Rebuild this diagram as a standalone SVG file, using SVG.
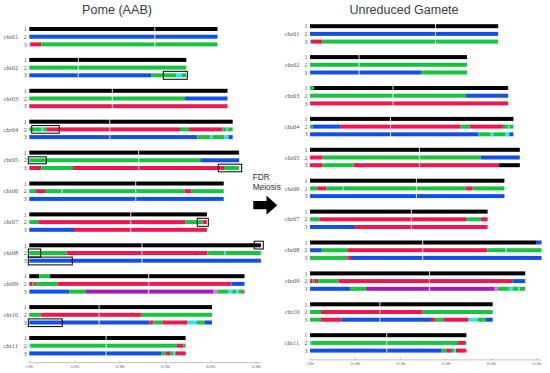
<svg xmlns="http://www.w3.org/2000/svg" width="550" height="373" viewBox="0 0 550 373">
<defs>
<style>
.k{fill:#000}.b{fill:#1150e6}.g{fill:#16c43e}.r{fill:#f0164f}.c{fill:#2de6f0}.p{fill:#a11fb5}.m{fill:#f06ade}
.cen{fill:#fff;opacity:.85}
.box{fill:none;stroke:#000;stroke-width:1}
.lab{font-family:"Liberation Serif",serif;font-size:6.3px;fill:#555}
.num{font-family:"Liberation Serif",serif;font-size:6px;fill:#555;text-anchor:end}
.title{font-family:"Liberation Sans",Arial,sans-serif;fill:#404040;text-anchor:middle}
.ax{stroke:#999;stroke-width:.6;fill:none}
.axl{font-family:"Liberation Sans",Arial,sans-serif;font-size:3.4px;fill:#777;text-anchor:middle}
</style>
</defs>
<rect width="550" height="373" fill="#fff"/>
<text class="title" x="117" y="14" font-size="12.6">Pome (AAB)</text>
<text class="title" x="404" y="13.5" font-size="12.5">Unreduced Gamete</text>

<g id="fdr">
<text x="252.7" y="180" font-family="Liberation Sans,Arial,sans-serif" font-size="8.3" fill="#333">FDR</text>
<text x="252.7" y="189.5" font-family="Liberation Sans,Arial,sans-serif" font-size="8.3" fill="#333">Meiosis</text>
<polygon points="253.3,201 266.5,201 266.5,195.8 277.3,205.3 266.5,214.8 266.5,209.3 253.3,209.3" fill="#000"/>
</g>

<!-- LEFT PANEL -->
<g id="left" transform="translate(29.3,0)">
<g id="L-chr01" transform="translate(0,29)">
<text class="lab" x="-25.6" y="9.9">chr01</text><text class="num" x="-2.5" y="2.2">1</text><text class="num" x="-2.5" y="9.9">2</text><text class="num" x="-2.5" y="17.6">3</text>
<rect class="k" x="0" y="-2" width="188.2" height="4"/>
<rect class="b" x="0" y="5.7" width="188.2" height="4"/>
<rect class="c" x="0" y="13.4" width="1" height="4"/><rect class="r" x="1" y="13.4" width="11" height="4"/><rect class="g" x="12" y="13.4" width="176.2" height="4"/>
<rect class="cen" x="125" y="-2.5" width="1" height="20.4"/>
</g>
<g id="L-chr02" transform="translate(0,59.9)">
<text class="lab" x="-25.6" y="9.9">chr02</text><text class="num" x="-2.5" y="2.2">1</text><text class="num" x="-2.5" y="9.9">2</text><text class="num" x="-2.5" y="17.6">3</text>
<rect class="k" x="0" y="-2" width="157" height="4"/>
<rect class="g" x="0" y="5.7" width="157" height="4"/>
<rect class="b" x="0" y="13.4" width="122.3" height="4"/><rect class="g" x="122.3" y="13.4" width="24.4" height="4"/><rect class="c" x="146.7" y="13.4" width="6" height="4"/><rect class="g" x="152.7" y="13.4" width="4.3" height="4"/>
<rect class="cen" x="48.5" y="-2.5" width="1" height="20.4"/>
<rect class="box" x="134" y="11.4" width="24" height="8"/>
</g>
<g id="L-chr03" transform="translate(0,90.8)">
<text class="lab" x="-25.6" y="9.9">chr03</text><text class="num" x="-2.5" y="2.2">1</text><text class="num" x="-2.5" y="9.9">2</text><text class="num" x="-2.5" y="17.6">3</text>
<rect class="k" x="0" y="-2" width="198.2" height="4"/>
<rect class="g" x="0" y="5.7" width="155.7" height="4"/><rect class="b" x="155.7" y="5.7" width="42.5" height="4"/>
<rect class="r" x="0" y="13.4" width="198.2" height="4"/>
<rect class="cen" x="82.5" y="-2.5" width="1" height="20.4"/>
</g>
<g id="L-chr04" transform="translate(0,121.7)">
<text class="lab" x="-25.6" y="9.9">chr04</text><text class="num" x="-2.5" y="2.2">1</text><text class="num" x="-2.5" y="9.9">2</text><text class="num" x="-2.5" y="17.6">3</text>
<rect class="k" x="0" y="-2" width="203.4" height="4"/>
<rect class="g" x="0" y="5.7" width="12" height="4"/><rect class="c" x="12" y="5.7" width="2" height="4"/><rect class="g" x="14" y="5.7" width="3.3" height="4"/><rect class="r" x="17.3" y="5.7" width="133.4" height="4"/><rect class="g" x="150.7" y="5.7" width="9" height="4"/><rect class="r" x="159.7" y="5.7" width="33.3" height="4"/><rect class="g" x="193" y="5.7" width="4.3" height="4"/><rect class="c" x="197.3" y="5.7" width="1.2" height="4"/><rect class="g" x="198.5" y="5.7" width="4.9" height="4"/>
<rect class="b" x="0" y="13.4" width="168" height="4"/><rect class="g" x="168" y="13.4" width="12.7" height="4"/><rect class="c" x="180.7" y="13.4" width="2.3" height="4"/><rect class="g" x="183" y="13.4" width="12" height="4"/><rect class="c" x="195" y="13.4" width="4.3" height="4"/><rect class="b" x="199.3" y="13.4" width="4.1" height="4"/>
<rect class="cen" x="80" y="-2.5" width="1" height="20.4"/>
<rect class="box" x="2.4" y="3.9" width="27.6" height="7.6"/>
</g>
<g id="L-chr05" transform="translate(0,152.6)">
<text class="lab" x="-25.6" y="9.9">chr05</text><text class="num" x="-2.5" y="2.2">1</text><text class="num" x="-2.5" y="9.9">2</text><text class="num" x="-2.5" y="17.6">3</text>
<rect class="k" x="0" y="-2" width="209.8" height="4"/>
<rect class="g" x="0" y="5.7" width="171" height="4"/><rect class="b" x="171" y="5.7" width="38.8" height="4"/>
<rect class="r" x="0" y="13.4" width="12" height="4"/><rect class="g" x="12" y="13.4" width="31.7" height="4"/><rect class="r" x="43.7" y="13.4" width="151" height="4"/><rect class="g" x="194.7" y="13.4" width="15.1" height="4"/>
<rect class="cen" x="108.9" y="-2.5" width="1" height="20.4"/>
<rect class="box" x="-1" y="4.2" width="18" height="7"/>
<rect class="box" x="189" y="11.6" width="23.4" height="7.6"/>
</g>
<g id="L-chr06" transform="translate(0,183.5)">
<text class="lab" x="-25.6" y="9.9">chr06</text><text class="num" x="-2.5" y="2.2">1</text><text class="num" x="-2.5" y="9.9">2</text><text class="num" x="-2.5" y="17.6">3</text>
<rect class="k" x="0" y="-2" width="194.4" height="4"/>
<rect class="g" x="0" y="5.7" width="6.7" height="4"/><rect class="r" x="6.7" y="5.7" width="9" height="4"/><rect class="g" x="15.7" y="5.7" width="16.6" height="4"/><rect class="c" x="32.3" y="5.7" width="1" height="4"/><rect class="g" x="33.3" y="5.7" width="121.7" height="4"/><rect class="r" x="155" y="5.7" width="7.3" height="4"/><rect class="g" x="162.3" y="5.7" width="32.1" height="4"/>
<rect class="b" x="0" y="13.4" width="194.4" height="4"/>
<rect class="cen" x="105.9" y="-2.5" width="1" height="20.4"/>
</g>
<g id="L-chr07" transform="translate(0,214.4)">
<text class="lab" x="-25.6" y="9.9">chr07</text><text class="num" x="-2.5" y="2.2">1</text><text class="num" x="-2.5" y="9.9">2</text><text class="num" x="-2.5" y="17.6">3</text>
<rect class="k" x="0" y="-2" width="177.6" height="4"/>
<rect class="g" x="0" y="5.7" width="9" height="4"/><rect class="r" x="9" y="5.7" width="147.3" height="4"/><rect class="g" x="156.3" y="5.7" width="17" height="4"/><rect class="r" x="173.3" y="5.7" width="4.3" height="4"/>
<rect class="b" x="0" y="13.4" width="44.7" height="4"/><rect class="r" x="44.7" y="13.4" width="132.9" height="4"/>
<rect class="cen" x="100.9" y="-2.5" width="1" height="20.4"/>
<rect class="box" x="168" y="3.9" width="11" height="8"/>
</g>
<g id="L-chr08" transform="translate(0,245.3)">
<text class="lab" x="-25.6" y="9.9">chr08</text><text class="num" x="-2.5" y="2.2">1</text><text class="num" x="-2.5" y="9.9">2</text><text class="num" x="-2.5" y="17.6">3</text>
<rect class="k" x="0" y="-2" width="231.6" height="4"/>
<rect class="g" x="0" y="5.7" width="37.3" height="4"/><rect class="r" x="37.3" y="5.7" width="140.7" height="4"/><rect class="g" x="178" y="5.7" width="17" height="4"/><rect class="c" x="195" y="5.7" width="1.7" height="4"/><rect class="g" x="196.7" y="5.7" width="34.9" height="4"/>
<rect class="b" x="0" y="13.4" width="231.6" height="4"/>
<rect class="cen" x="112.2" y="-2.5" width="1" height="20.4"/>
<rect class="box" x="225" y="-4.1" width="9" height="7.8"/>
<rect class="box" x="-1" y="3.7" width="12.4" height="8.1"/>
<rect class="box" x="-1" y="11.8" width="44" height="7.8"/>
</g>
<g id="L-chr09" transform="translate(0,276.2)">
<text class="lab" x="-25.6" y="9.9">chr09</text><text class="num" x="-2.5" y="2.2">1</text><text class="num" x="-2.5" y="9.9">2</text><text class="num" x="-2.5" y="17.6">3</text>
<rect class="k" x="0" y="-2" width="10" height="4"/><rect class="g" x="10" y="-2" width="10.7" height="4"/><rect class="k" x="20.7" y="-2" width="194.5" height="4"/>
<rect class="r" x="0" y="5.7" width="3" height="4"/><rect class="g" x="3" y="5.7" width="2" height="4"/><rect class="r" x="5" y="5.7" width="2.3" height="4"/><rect class="g" x="7.3" y="5.7" width="21" height="4"/><rect class="r" x="28.3" y="5.7" width="174" height="4"/><rect class="b" x="202.3" y="5.7" width="12.9" height="4"/>
<rect class="b" x="0" y="13.4" width="40" height="4"/><rect class="g" x="40" y="13.4" width="16" height="4"/><rect class="p" x="56" y="13.4" width="128.3" height="4"/><rect class="m" x="184.3" y="13.4" width="3.7" height="4"/><rect class="g" x="188" y="13.4" width="10.7" height="4"/><rect class="c" x="198.7" y="13.4" width="4.3" height="4"/><rect class="g" x="203" y="13.4" width="4.3" height="4"/><rect class="c" x="207.3" y="13.4" width="2" height="4"/><rect class="g" x="209.3" y="13.4" width="4.7" height="4"/><rect class="r" x="214" y="13.4" width="1.2" height="4"/>
<rect class="cen" x="118.9" y="-2.5" width="1" height="20.4"/>
</g>
<g id="L-chr10" transform="translate(0,307.1)">
<text class="lab" x="-25.6" y="9.9">chr10</text><text class="num" x="-2.5" y="2.2">1</text><text class="num" x="-2.5" y="9.9">2</text><text class="num" x="-2.5" y="17.6">3</text>
<rect class="k" x="0" y="-2" width="182.7" height="4"/>
<rect class="g" x="0" y="5.7" width="11.3" height="4"/><rect class="r" x="11.3" y="5.7" width="101" height="4"/><rect class="g" x="112.3" y="5.7" width="70.4" height="4"/>
<rect class="b" x="0" y="13.4" width="120.3" height="4"/><rect class="r" x="120.3" y="13.4" width="4" height="4"/><rect class="g" x="124.3" y="13.4" width="8.7" height="4"/><rect class="r" x="133" y="13.4" width="25.3" height="4"/><rect class="c" x="158.3" y="13.4" width="9.4" height="4"/><rect class="g" x="167.7" y="13.4" width="7.6" height="4"/><rect class="b" x="175.3" y="13.4" width="7.4" height="4"/>
<rect class="cen" x="69.3" y="-2.5" width="1" height="20.4"/>
<rect class="box" x="-1" y="11.8" width="34" height="7.7"/>
</g>
<g id="L-chr11" transform="translate(0,338)">
<text class="lab" x="-25.6" y="9.9">chr11</text><text class="num" x="-2.5" y="2.2">1</text><text class="num" x="-2.5" y="9.9">2</text><text class="num" x="-2.5" y="17.6">3</text>
<rect class="k" x="0" y="-2" width="156.4" height="4"/>
<rect class="c" x="0" y="5.7" width="1.7" height="4"/><rect class="g" x="1.7" y="5.7" width="146" height="4"/><rect class="r" x="147.7" y="5.7" width="6.6" height="4"/><rect class="g" x="154.3" y="5.7" width="2.1" height="4"/>
<rect class="b" x="0" y="13.4" width="131.7" height="4"/><rect class="g" x="131.7" y="13.4" width="4.3" height="4"/><rect class="r" x="136" y="13.4" width="4.7" height="4"/><rect class="g" x="140.7" y="13.4" width="3" height="4"/><rect class="c" x="143.7" y="13.4" width="2.3" height="4"/><rect class="r" x="146" y="13.4" width="10.4" height="4"/>
<rect class="cen" x="76.3" y="-2.5" width="1" height="20.4"/>
</g>
<g id="L-axis">
<path class="ax" d="M0,362.7H231.7M0,362.7V360.9M45.3,362.7V360.9M90.7,362.7V360.9M136,362.7V360.9M181.3,362.7V360.9M226.7,362.7V360.9"/>
<text class="axl" x="0" y="368">0 Mb</text><text class="axl" x="45.3" y="368">10 Mb</text><text class="axl" x="90.7" y="368">20 Mb</text><text class="axl" x="136" y="368">30 Mb</text><text class="axl" x="181.3" y="368">40 Mb</text><text class="axl" x="226.7" y="368">50 Mb</text>
</g>
</g>

<!-- RIGHT PANEL -->
<g id="right" transform="translate(310,-2.8)">
<g id="R-chr01" transform="translate(0,29)">
<text class="lab" x="-25" y="9.9">chr01</text><text class="num" x="-2.5" y="2.2">1</text><text class="num" x="-2.5" y="9.9">2</text><text class="num" x="-2.5" y="17.6">3</text>
<rect class="k" x="0" y="-2" width="188.2" height="4"/>
<rect class="b" x="0" y="5.7" width="188.2" height="4"/>
<rect class="c" x="0" y="13.4" width="1" height="4"/><rect class="r" x="1" y="13.4" width="11.3" height="4"/><rect class="g" x="12.3" y="13.4" width="175.9" height="4"/>
<rect class="cen" x="125" y="-2.5" width="1" height="20.4"/>
</g>
<g id="R-chr02" transform="translate(0,59.9)">
<text class="lab" x="-25" y="9.9">chr02</text><text class="num" x="-2.5" y="2.2">1</text><text class="num" x="-2.5" y="9.9">2</text><text class="num" x="-2.5" y="17.6">3</text>
<rect class="k" x="0" y="-2" width="157" height="4"/>
<rect class="g" x="0" y="5.7" width="157" height="4"/>
<rect class="b" x="0" y="13.4" width="111" height="4"/><rect class="g" x="111" y="13.4" width="46" height="4"/>
<rect class="cen" x="48.5" y="-2.5" width="1" height="20.4"/>
</g>
<g id="R-chr03" transform="translate(0,90.8)">
<text class="lab" x="-25" y="9.9">chr03</text><text class="num" x="-2.5" y="2.2">1</text><text class="num" x="-2.5" y="9.9">2</text><text class="num" x="-2.5" y="17.6">3</text>
<rect class="g" x="0" y="-2" width="4" height="4"/><rect class="k" x="4" y="-2" width="194.2" height="4"/>
<rect class="g" x="0" y="5.7" width="156" height="4"/><rect class="b" x="156" y="5.7" width="42.2" height="4"/>
<rect class="r" x="0" y="13.4" width="198.2" height="4"/>
<rect class="cen" x="82.5" y="-2.5" width="1" height="20.4"/>
</g>
<g id="R-chr04" transform="translate(0,121.7)">
<text class="lab" x="-25" y="9.9">chr04</text><text class="num" x="-2.5" y="2.2">1</text><text class="num" x="-2.5" y="9.9">2</text><text class="num" x="-2.5" y="17.6">3</text>
<rect class="k" x="0" y="-2" width="203.4" height="4"/>
<rect class="g" x="0" y="5.7" width="2.7" height="4"/><rect class="b" x="2.7" y="5.7" width="28" height="4"/><rect class="r" x="30.7" y="5.7" width="120" height="4"/><rect class="g" x="150.7" y="5.7" width="9" height="4"/><rect class="r" x="159.7" y="5.7" width="33.3" height="4"/><rect class="g" x="193" y="5.7" width="5.3" height="4"/><rect class="c" x="198.3" y="5.7" width="1" height="4"/><rect class="g" x="199.3" y="5.7" width="4.1" height="4"/>
<rect class="b" x="0" y="13.4" width="168.3" height="4"/><rect class="g" x="168.3" y="13.4" width="12.4" height="4"/><rect class="c" x="180.7" y="13.4" width="2.6" height="4"/><rect class="g" x="183.3" y="13.4" width="12.4" height="4"/><rect class="c" x="195.7" y="13.4" width="3.6" height="4"/><rect class="b" x="199.3" y="13.4" width="4.1" height="4"/>
<rect class="cen" x="80" y="-2.5" width="1" height="20.4"/>
</g>
<g id="R-chr05" transform="translate(0,152.6)">
<text class="lab" x="-25" y="9.9">chr05</text><text class="num" x="-2.5" y="2.2">1</text><text class="num" x="-2.5" y="9.9">2</text><text class="num" x="-2.5" y="17.6">3</text>
<rect class="k" x="0" y="-2" width="209.8" height="4"/>
<rect class="r" x="0" y="5.7" width="12.7" height="4"/><rect class="g" x="12.7" y="5.7" width="158.3" height="4"/><rect class="b" x="171" y="5.7" width="38.8" height="4"/>
<rect class="r" x="0" y="13.4" width="12.7" height="4"/><rect class="g" x="12.7" y="13.4" width="31" height="4"/><rect class="r" x="43.7" y="13.4" width="145.3" height="4"/><rect class="k" x="189" y="13.4" width="20.8" height="4"/>
<rect class="cen" x="108.9" y="-2.5" width="1" height="20.4"/>
</g>
<g id="R-chr06" transform="translate(0,183.5)">
<text class="lab" x="-25" y="9.9">chr06</text><text class="num" x="-2.5" y="2.2">1</text><text class="num" x="-2.5" y="9.9">2</text><text class="num" x="-2.5" y="17.6">3</text>
<rect class="k" x="0" y="-2" width="194.4" height="4"/>
<rect class="g" x="0" y="5.7" width="7.3" height="4"/><rect class="r" x="7.3" y="5.7" width="9" height="4"/><rect class="g" x="16.3" y="5.7" width="16.4" height="4"/><rect class="c" x="32.7" y="5.7" width="1" height="4"/><rect class="g" x="33.7" y="5.7" width="122" height="4"/><rect class="r" x="155.7" y="5.7" width="7" height="4"/><rect class="g" x="162.7" y="5.7" width="31.7" height="4"/>
<rect class="b" x="0" y="13.4" width="194.4" height="4"/>
<rect class="cen" x="105.9" y="-2.5" width="1" height="20.4"/>
</g>
<g id="R-chr07" transform="translate(0,214.4)">
<text class="lab" x="-25" y="9.9">chr07</text><text class="num" x="-2.5" y="2.2">1</text><text class="num" x="-2.5" y="9.9">2</text><text class="num" x="-2.5" y="17.6">3</text>
<rect class="k" x="0" y="-2" width="177.6" height="4"/>
<rect class="g" x="0" y="5.7" width="9.3" height="4"/><rect class="r" x="9.3" y="5.7" width="146.7" height="4"/><rect class="g" x="156" y="5.7" width="14.7" height="4"/><rect class="r" x="170.7" y="5.7" width="6.9" height="4"/>
<rect class="b" x="0" y="13.4" width="45" height="4"/><rect class="r" x="45" y="13.4" width="132.6" height="4"/>
<rect class="cen" x="100.9" y="-2.5" width="1" height="20.4"/>
</g>
<g id="R-chr08" transform="translate(0,245.3)">
<text class="lab" x="-25" y="9.9">chr08</text><text class="num" x="-2.5" y="2.2">1</text><text class="num" x="-2.5" y="9.9">2</text><text class="num" x="-2.5" y="17.6">3</text>
<rect class="k" x="0" y="-2" width="226" height="4"/><rect class="b" x="226" y="-2" width="5.6" height="4"/>
<rect class="b" x="0" y="5.7" width="11.7" height="4"/><rect class="g" x="11.7" y="5.7" width="25.6" height="4"/><rect class="r" x="37.3" y="5.7" width="140" height="4"/><rect class="g" x="177.3" y="5.7" width="17.7" height="4"/><rect class="c" x="195" y="5.7" width="1.7" height="4"/><rect class="g" x="196.7" y="5.7" width="34.9" height="4"/>
<rect class="g" x="0" y="13.4" width="37.3" height="4"/><rect class="r" x="37.3" y="13.4" width="3.7" height="4"/><rect class="b" x="41" y="13.4" width="190.6" height="4"/>
<rect class="cen" x="112.2" y="-2.5" width="1" height="20.4"/>
</g>
<g id="R-chr09" transform="translate(0,276.2)">
<text class="lab" x="-25" y="9.9">chr09</text><text class="num" x="-2.5" y="2.2">1</text><text class="num" x="-2.5" y="9.9">2</text><text class="num" x="-2.5" y="17.6">3</text>
<rect class="k" x="0" y="-2" width="215.2" height="4"/>
<rect class="r" x="0" y="5.7" width="2.7" height="4"/><rect class="g" x="2.7" y="5.7" width="2.3" height="4"/><rect class="r" x="5" y="5.7" width="3.3" height="4"/><rect class="g" x="8.3" y="5.7" width="20" height="4"/><rect class="r" x="28.3" y="5.7" width="174" height="4"/><rect class="b" x="202.3" y="5.7" width="12.9" height="4"/>
<rect class="b" x="0" y="13.4" width="40" height="4"/><rect class="g" x="40" y="13.4" width="15.7" height="4"/><rect class="p" x="55.7" y="13.4" width="129" height="4"/><rect class="m" x="184.7" y="13.4" width="3.3" height="4"/><rect class="g" x="188" y="13.4" width="11.3" height="4"/><rect class="c" x="199.3" y="13.4" width="3.7" height="4"/><rect class="g" x="203" y="13.4" width="5.3" height="4"/><rect class="c" x="208.3" y="13.4" width="1.7" height="4"/><rect class="g" x="210" y="13.4" width="4.3" height="4"/><rect class="r" x="214.3" y="13.4" width="0.9" height="4"/>
<rect class="cen" x="118.9" y="-2.5" width="1" height="20.4"/>
</g>
<g id="R-chr10" transform="translate(0,307.1)">
<text class="lab" x="-25" y="9.9">chr10</text><text class="num" x="-2.5" y="2.2">1</text><text class="num" x="-2.5" y="9.9">2</text><text class="num" x="-2.5" y="17.6">3</text>
<rect class="k" x="0" y="-2" width="182.7" height="4"/>
<rect class="g" x="0" y="5.7" width="11" height="4"/><rect class="r" x="11" y="5.7" width="101.7" height="4"/><rect class="g" x="112.7" y="5.7" width="70" height="4"/>
<rect class="g" x="0" y="13.4" width="11" height="4"/><rect class="r" x="11" y="13.4" width="20.7" height="4"/><rect class="b" x="31.7" y="13.4" width="89.3" height="4"/><rect class="r" x="121" y="13.4" width="4" height="4"/><rect class="g" x="125" y="13.4" width="8.3" height="4"/><rect class="r" x="133.3" y="13.4" width="25.4" height="4"/><rect class="c" x="158.7" y="13.4" width="9.3" height="4"/><rect class="g" x="168" y="13.4" width="8" height="4"/><rect class="b" x="176" y="13.4" width="6.7" height="4"/>
<rect class="cen" x="69.3" y="-2.5" width="1" height="20.4"/>
</g>
<g id="R-chr11" transform="translate(0,338)">
<text class="lab" x="-25" y="9.9">chr11</text><text class="num" x="-2.5" y="2.2">1</text><text class="num" x="-2.5" y="9.9">2</text><text class="num" x="-2.5" y="17.6">3</text>
<rect class="k" x="0" y="-2" width="156.4" height="4"/>
<rect class="c" x="0" y="5.7" width="1.3" height="4"/><rect class="g" x="1.3" y="5.7" width="146.7" height="4"/><rect class="r" x="148" y="5.7" width="7" height="4"/><rect class="g" x="155" y="5.7" width="1.4" height="4"/>
<rect class="b" x="0" y="13.4" width="131.7" height="4"/><rect class="g" x="131.7" y="13.4" width="4.6" height="4"/><rect class="r" x="136.3" y="13.4" width="4.7" height="4"/><rect class="g" x="141" y="13.4" width="3" height="4"/><rect class="c" x="144" y="13.4" width="2" height="4"/><rect class="r" x="146" y="13.4" width="10.4" height="4"/>
<rect class="cen" x="76.3" y="-2.5" width="1" height="20.4"/>
</g>
<g id="R-axis">
<path class="ax" d="M0,362.7H231.7M0,362.7V360.9M45.3,362.7V360.9M90.7,362.7V360.9M136,362.7V360.9M181.3,362.7V360.9M226.7,362.7V360.9"/>
<text class="axl" x="0" y="368">0 Mb</text><text class="axl" x="45.3" y="368">10 Mb</text><text class="axl" x="90.7" y="368">20 Mb</text><text class="axl" x="136" y="368">30 Mb</text><text class="axl" x="181.3" y="368">40 Mb</text><text class="axl" x="226.7" y="368">50 Mb</text>
</g>
</g>
</svg>
